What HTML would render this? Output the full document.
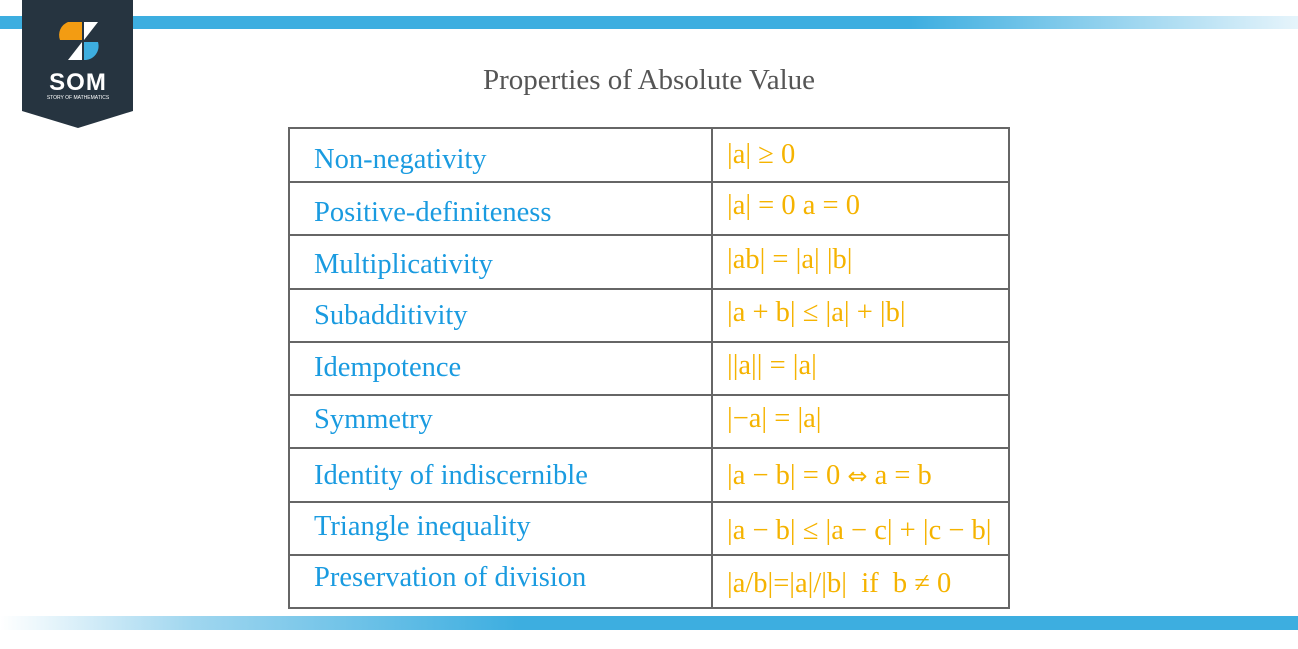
<!DOCTYPE html>
<html><head><meta charset="utf-8"><style>
body{margin:0;width:1298px;height:649px;background:#fff;position:relative;overflow:hidden;font-family:"Liberation Serif",serif}
.topbar{position:absolute;left:0;top:16px;width:1298px;height:13px;background:linear-gradient(90deg,#3daee0 0%,#3daee0 70%,#e6f4fb 100%)}
.botbar{position:absolute;left:0;top:616px;width:1298px;height:14px;background:linear-gradient(90deg,#ffffff 0%,#9fd6ef 15%,#3daee0 40%,#3daee0 100%)}
.title{position:absolute;left:0;width:1298px;top:64px;text-align:center;font-size:29px;color:#555}
.tbl{position:absolute;left:288px;top:127px;width:718px;height:478px;border:2px solid #666}
.hl{position:absolute;left:0;width:718px;height:2px;background:#666}
.vl{position:absolute;left:421px;top:0;width:2px;height:478px;background:#666}
.k,.v{position:absolute;font-size:28.5px;white-space:nowrap;line-height:1}
.k{left:24px;color:#1a9be0}
.v{left:437px;color:#f5b300}
</style></head><body>
<div class="topbar"></div>
<div class="botbar"></div>
<svg style="position:absolute;left:22px;top:0" width="112" height="130">
<polygon points="0,0 111,0 111,111 56,128 0,111" fill="#263440"/>
<path d="M60,22 L46,22 A14,14 0 0 0 38,40 L60,40 Z" fill="#f39c12"/>
<polygon points="62,22 76,22 62,40" fill="#fff"/>
<path d="M62,42 L76,42 A14,14 0 0 1 62,60 Z" fill="#3daee0"/>
<polygon points="60,42 60,60 46,60" fill="#fff"/>
<text x="56" y="90" text-anchor="middle" fill="#fff" font-family="Liberation Sans" font-weight="bold" font-size="24" letter-spacing="1">SOM</text>
<text x="56" y="99" text-anchor="middle" fill="#fff" font-family="Liberation Sans" font-size="5">STORY OF MATHEMATICS</text>
</svg>
<div class="title">Properties of Absolute Value</div>
<div class="tbl">
<div class="vl"></div>
<div class="hl" style="top:52px"></div>
<div class="hl" style="top:105px"></div>
<div class="hl" style="top:159px"></div>
<div class="hl" style="top:212px"></div>
<div class="hl" style="top:265px"></div>
<div class="hl" style="top:318px"></div>
<div class="hl" style="top:372px"></div>
<div class="hl" style="top:425px"></div>
<div class="k" style="top:17px">Non-negativity</div>
<div class="v" style="top:12px">|a| ≥ 0</div>
<div class="k" style="top:70px">Positive-definiteness</div>
<div class="v" style="top:63px">|a| = 0 a = 0</div>
<div class="k" style="top:122px">Multiplicativity</div>
<div class="v" style="top:117px">|ab| = |a| |b|</div>
<div class="k" style="top:173px">Subadditivity</div>
<div class="v" style="top:170px">|a + b| ≤ |a| + |b|</div>
<div class="k" style="top:225px">Idempotence</div>
<div class="v" style="top:223px">||a|| = |a|</div>
<div class="k" style="top:277px">Symmetry</div>
<div class="v" style="top:276px">|−a| = |a|</div>
<div class="k" style="top:333px">Identity of indiscernible</div>
<div class="v" style="top:333px">|a − b| = 0 <span style="font-family:'DejaVu Sans';font-size:24px">⇔</span> a = b</div>
<div class="k" style="top:384px">Triangle inequality</div>
<div class="v" style="top:388px">|a − b| ≤ |a − c| + |c − b|</div>
<div class="k" style="top:435px">Preservation of division</div>
<div class="v" style="top:441px">|a/b|=|a|/|b|&nbsp; if&nbsp; b ≠ 0</div>
</div>
</body></html>
